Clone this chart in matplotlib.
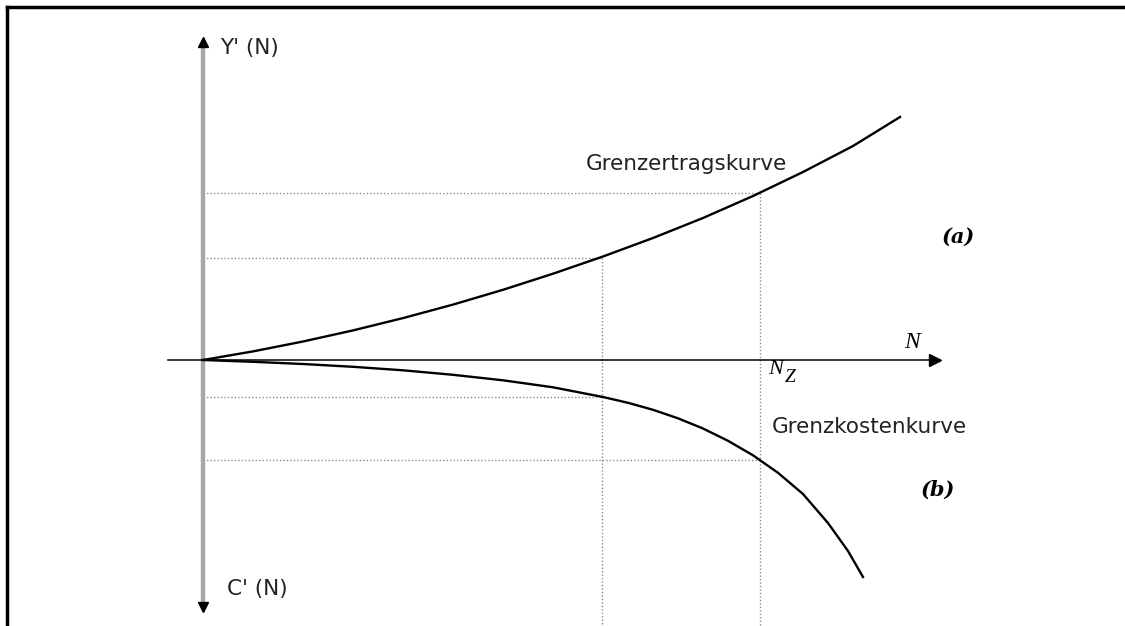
import numpy as np
import matplotlib
matplotlib.use("Agg")
import matplotlib.pyplot as plt
from matplotlib.lines import Line2D

plt.rcParams['font.family'] = ['DejaVu Sans']

# curve values (N on x, value on y)
n_upper = [0, 0.5, 1, 1.5, 2, 2.5, 3, 3.5, 4, 4.5, 5, 5.5, 6, 6.5, 6.97]
y_upper = [0, 0.086, 0.185, 0.296, 0.419, 0.554, 0.702, 0.863, 1.035, 1.22, 1.42, 1.64, 1.88, 2.14, 2.43]

n_lower = [0, 0.5, 1, 1.5, 2, 2.5, 3, 3.5, 4, 4.25, 4.5, 4.75, 5, 5.25, 5.5, 5.75, 6, 6.25, 6.45, 6.6]
c_lower = [0, -0.018, -0.040, -0.068, -0.103, -0.148, -0.203, -0.273, -0.37, -0.428, -0.498,
           -0.583, -0.685, -0.808, -0.953, -1.128, -1.34, -1.63, -1.91, -2.17]

# reference points (a) and N_z
n_marks = [3.99, 5.57]
y_marks = [1.02, 1.67]
c_marks = [-0.37, -1.00]

# axis extents
y_axis = [-2.47, 3.18]
x_axis = [-0.35, 7.32]

fig = plt.figure(figsize=(11.25, 6.26), dpi=100)
ax = fig.add_axes([0, 0, 1, 1])
ax.set_xlim(-2.03, 9.22)
ax.set_ylim(-2.66, 3.60)
ax.axis('off')

# dotted guide lines
dot = dict(color='#8c8c8c', lw=1, linestyle=(0, (1, 1.5)))
for n, y, c in zip(n_marks, y_marks, c_marks):
    ax.plot([0, n], [y, y], **dot)
    ax.plot([0, n], [c, c], **dot)
    ax.plot([n, n], [y, -2.66], **dot)

# axes
ax.plot([0, 0], y_axis, color='#a6a6a6', lw=3.2, solid_capstyle='butt', zorder=2)
ax.plot([0], [y_axis[1]], marker='^', color='black', ms=7, zorder=3)
ax.plot([0], [y_axis[0]], marker='v', color='black', ms=7, zorder=3)
ax.plot(x_axis, [0, 0], color='black', lw=1.1, zorder=2)
ax.plot([x_axis[1]], [0], marker='>', color='black', ms=8, zorder=3)

# curves
ax.plot(n_upper, y_upper, color='black', lw=1.7, zorder=4, solid_joinstyle='round')
ax.plot(n_lower, c_lower, color='black', lw=1.7, zorder=4, solid_joinstyle='round')

# labels
sans = dict(fontsize=15.5, va='center', ha='left', color='#222222')
ax.text(0.17, 3.12, "Y' (N)", **sans)
ax.text(0.24, -2.29, "C' (N)", **sans)
ax.text(3.83, 1.96, "Grenzertragskurve", **sans)
ax.text(5.69, -0.67, "Grenzkostenkurve", **sans)

serif_bi = dict(fontsize=15, va='center', ha='center', family='DejaVu Serif',
                style='italic', weight='bold')
ax.text(7.55, 1.23, "(a)", **serif_bi)
ax.text(7.35, -1.30, "(b)", **serif_bi)

serif_i = dict(family='Liberation Serif', style='italic', va='center')
ax.text(7.09, 0.18, "N", fontsize=17, ha='center', **serif_i)
ax.text(5.65, -0.09, "N", fontsize=16, ha='left', **serif_i)
ax.text(5.82, -0.18, "Z", fontsize=14, ha='left', **serif_i)

# frame lines (left and top only)
fig.add_artist(Line2D([7 / 1125, 7 / 1125], [0, 1 - 7 / 626], color='black', lw=2.5,
                      transform=fig.transFigure))
fig.add_artist(Line2D([7 / 1125, 1123 / 1125], [1 - 7 / 626, 1 - 7 / 626], color='black', lw=2.5,
                      transform=fig.transFigure))

fig.savefig("out.png", dpi=100)
